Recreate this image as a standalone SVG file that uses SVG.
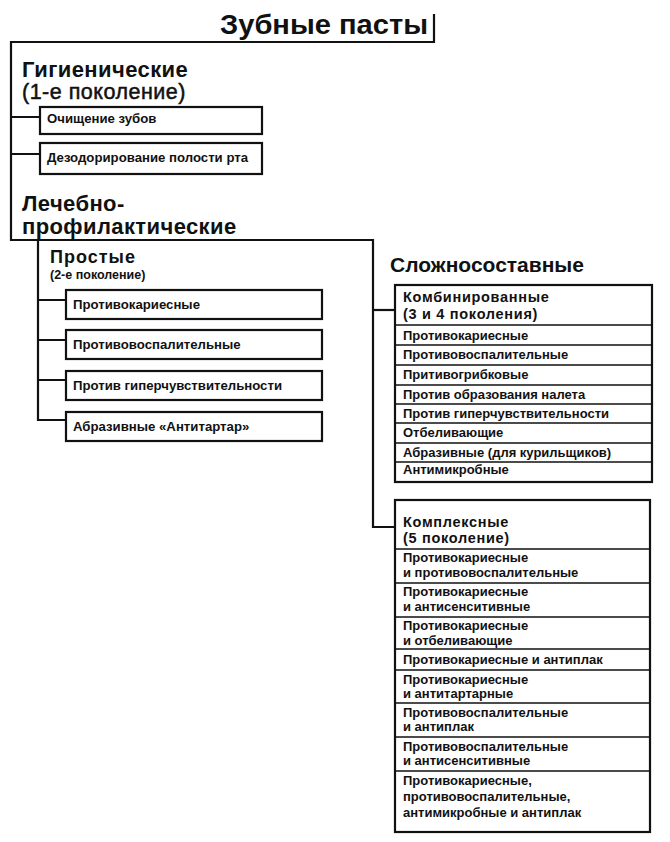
<svg xmlns="http://www.w3.org/2000/svg" width="670" height="842" viewBox="0 0 670 842">
<style>
.ln{stroke:#111;stroke-width:2.2;fill:none}
.bx{fill:#fff;stroke:#111;stroke-width:2.2}
.sep{stroke:#111;stroke-width:1.5}
text{font-family:"Liberation Sans",Arial,sans-serif;font-weight:bold;fill:#111}
.title{font-size:27px;font-weight:900}
.h1{font-size:22px;letter-spacing:0.4px}
.h1c{font-size:21px}
.h1s{font-size:21.5px;font-weight:normal;stroke:#111;stroke-width:0.5px;letter-spacing:0.5px}
.h2{font-size:18px;letter-spacing:1px}
.h2s{font-size:12.5px}
.h3{font-size:14.5px;letter-spacing:0.7px}
.bt{font-size:13.2px}
.rt{font-size:13px}
</style>
<rect width="670" height="842" fill="#fff"/>
<g id="connectors">
<path class="ln" d="M434,14 V42 H11 V240 H373 V527 H395"/>
<path class="ln" d="M11,117 H40 M11,154 H40"/>
<path class="ln" d="M38,240 V420 H66 M38,300 H66 M38,340 H66 M38,380 H66"/>
<path class="ln" d="M373,310 H395"/>
</g>
<g id="title"><text class="title" x="220" y="34" textLength="208" lengthAdjust="spacingAndGlyphs">Зубные пасты</text></g>
<g id="hyg">
<text class="h1" x="22" y="77">Гигиенические</text>
<text class="h1s" x="22" y="99">(1-е поколение)</text>
</g>
<g id="hyg1"><rect class="bx" x="40" y="107" width="222" height="27"/><text class="bt" x="47" y="123">Очищение зубов</text></g>
<g id="hyg2"><rect class="bx" x="40" y="143" width="222" height="31"/><text class="bt" x="47" y="162">Дезодорирование полости рта</text></g>
<g id="lech">
<text class="h1" x="22" y="211">Лечебно-</text>
<text class="h1" x="22" y="234">профилактические</text>
</g>
<g id="simple">
<text class="h2" x="50" y="263">Простые</text>
<text class="h2s" x="50" y="279">(2-е поколение)</text>
</g>
<g id="s1"><rect class="bx" x="66" y="290" width="256" height="29"/><text class="bt" x="73" y="309">Противокариесные</text></g>
<g id="s2"><rect class="bx" x="66" y="330" width="256" height="29"/><text class="bt" x="73" y="349">Противовоспалительные</text></g>
<g id="s3"><rect class="bx" x="66" y="371" width="256" height="29"/><text class="bt" x="73" y="390">Против гиперчувствительности</text></g>
<g id="s4"><rect class="bx" x="66" y="412" width="256" height="29"/><text class="bt" x="73" y="431">Абразивные «Антитартар»</text></g>
<g id="complex-head"><text class="h1c" x="390" y="272">Сложносоставные</text></g>
<g id="combined">
<rect class="bx" x="395" y="285" width="257" height="197"/>
<text class="h3" x="403" y="302">Комбинированные</text>
<text class="h3" x="403" y="319">(3 и 4 поколения)</text>
<path class="sep" d="M395,325 H652 M395,345 H652 M395,365 H652 M395,385 H652 M395,404 H652 M395,423 H652 M395,443 H652 M395,462 H652"/>
<text class="rt" x="403" y="340">Противокариесные</text>
<text class="rt" x="403" y="359">Противовоспалительные</text>
<text class="rt" x="403" y="379">Притивогрибковые</text>
<text class="rt" x="403" y="399">Против образования налета</text>
<text class="rt" x="403" y="418">Против гиперчувствительности</text>
<text class="rt" x="403" y="437">Отбеливающие</text>
<text class="rt" x="403" y="457">Абразивные (для курильщиков)</text>
<text class="rt" x="403" y="474">Антимикробные</text>
</g>
<g id="complexes">
<rect class="bx" x="395" y="500" width="255" height="332"/>
<text class="h3" x="403" y="527">Комплексные</text>
<text class="h3" x="403" y="543">(5 поколение)</text>
<path class="sep" d="M395,549 H650 M395,583 H650 M395,617 H650 M395,649 H650 M395,670 H650 M395,703 H650 M395,737 H650 M395,771 H650"/>
<text class="rt" x="403" y="562">Противокариесные</text>
<text class="rt" x="403" y="577">и противовоспалительные</text>
<text class="rt" x="403" y="596">Противокариесные</text>
<text class="rt" x="403" y="611">и антисенситивные</text>
<text class="rt" x="403" y="630">Противокариесные</text>
<text class="rt" x="403" y="645">и отбеливающие</text>
<text class="rt" x="403" y="664">Противокариесные и антиплак</text>
<text class="rt" x="403" y="684">Противокариесные</text>
<text class="rt" x="403" y="698">и антитартарные</text>
<text class="rt" x="403" y="717">Противовоспалительные</text>
<text class="rt" x="403" y="731">и антиплак</text>
<text class="rt" x="403" y="751">Противовоспалительные</text>
<text class="rt" x="403" y="765">и антисенситивные</text>
<text class="rt" x="403" y="785">Противокариесные,</text>
<text class="rt" x="403" y="801">противовоспалительные,</text>
<text class="rt" x="403" y="817">антимикробные и антиплак</text>
</g>
</svg>
